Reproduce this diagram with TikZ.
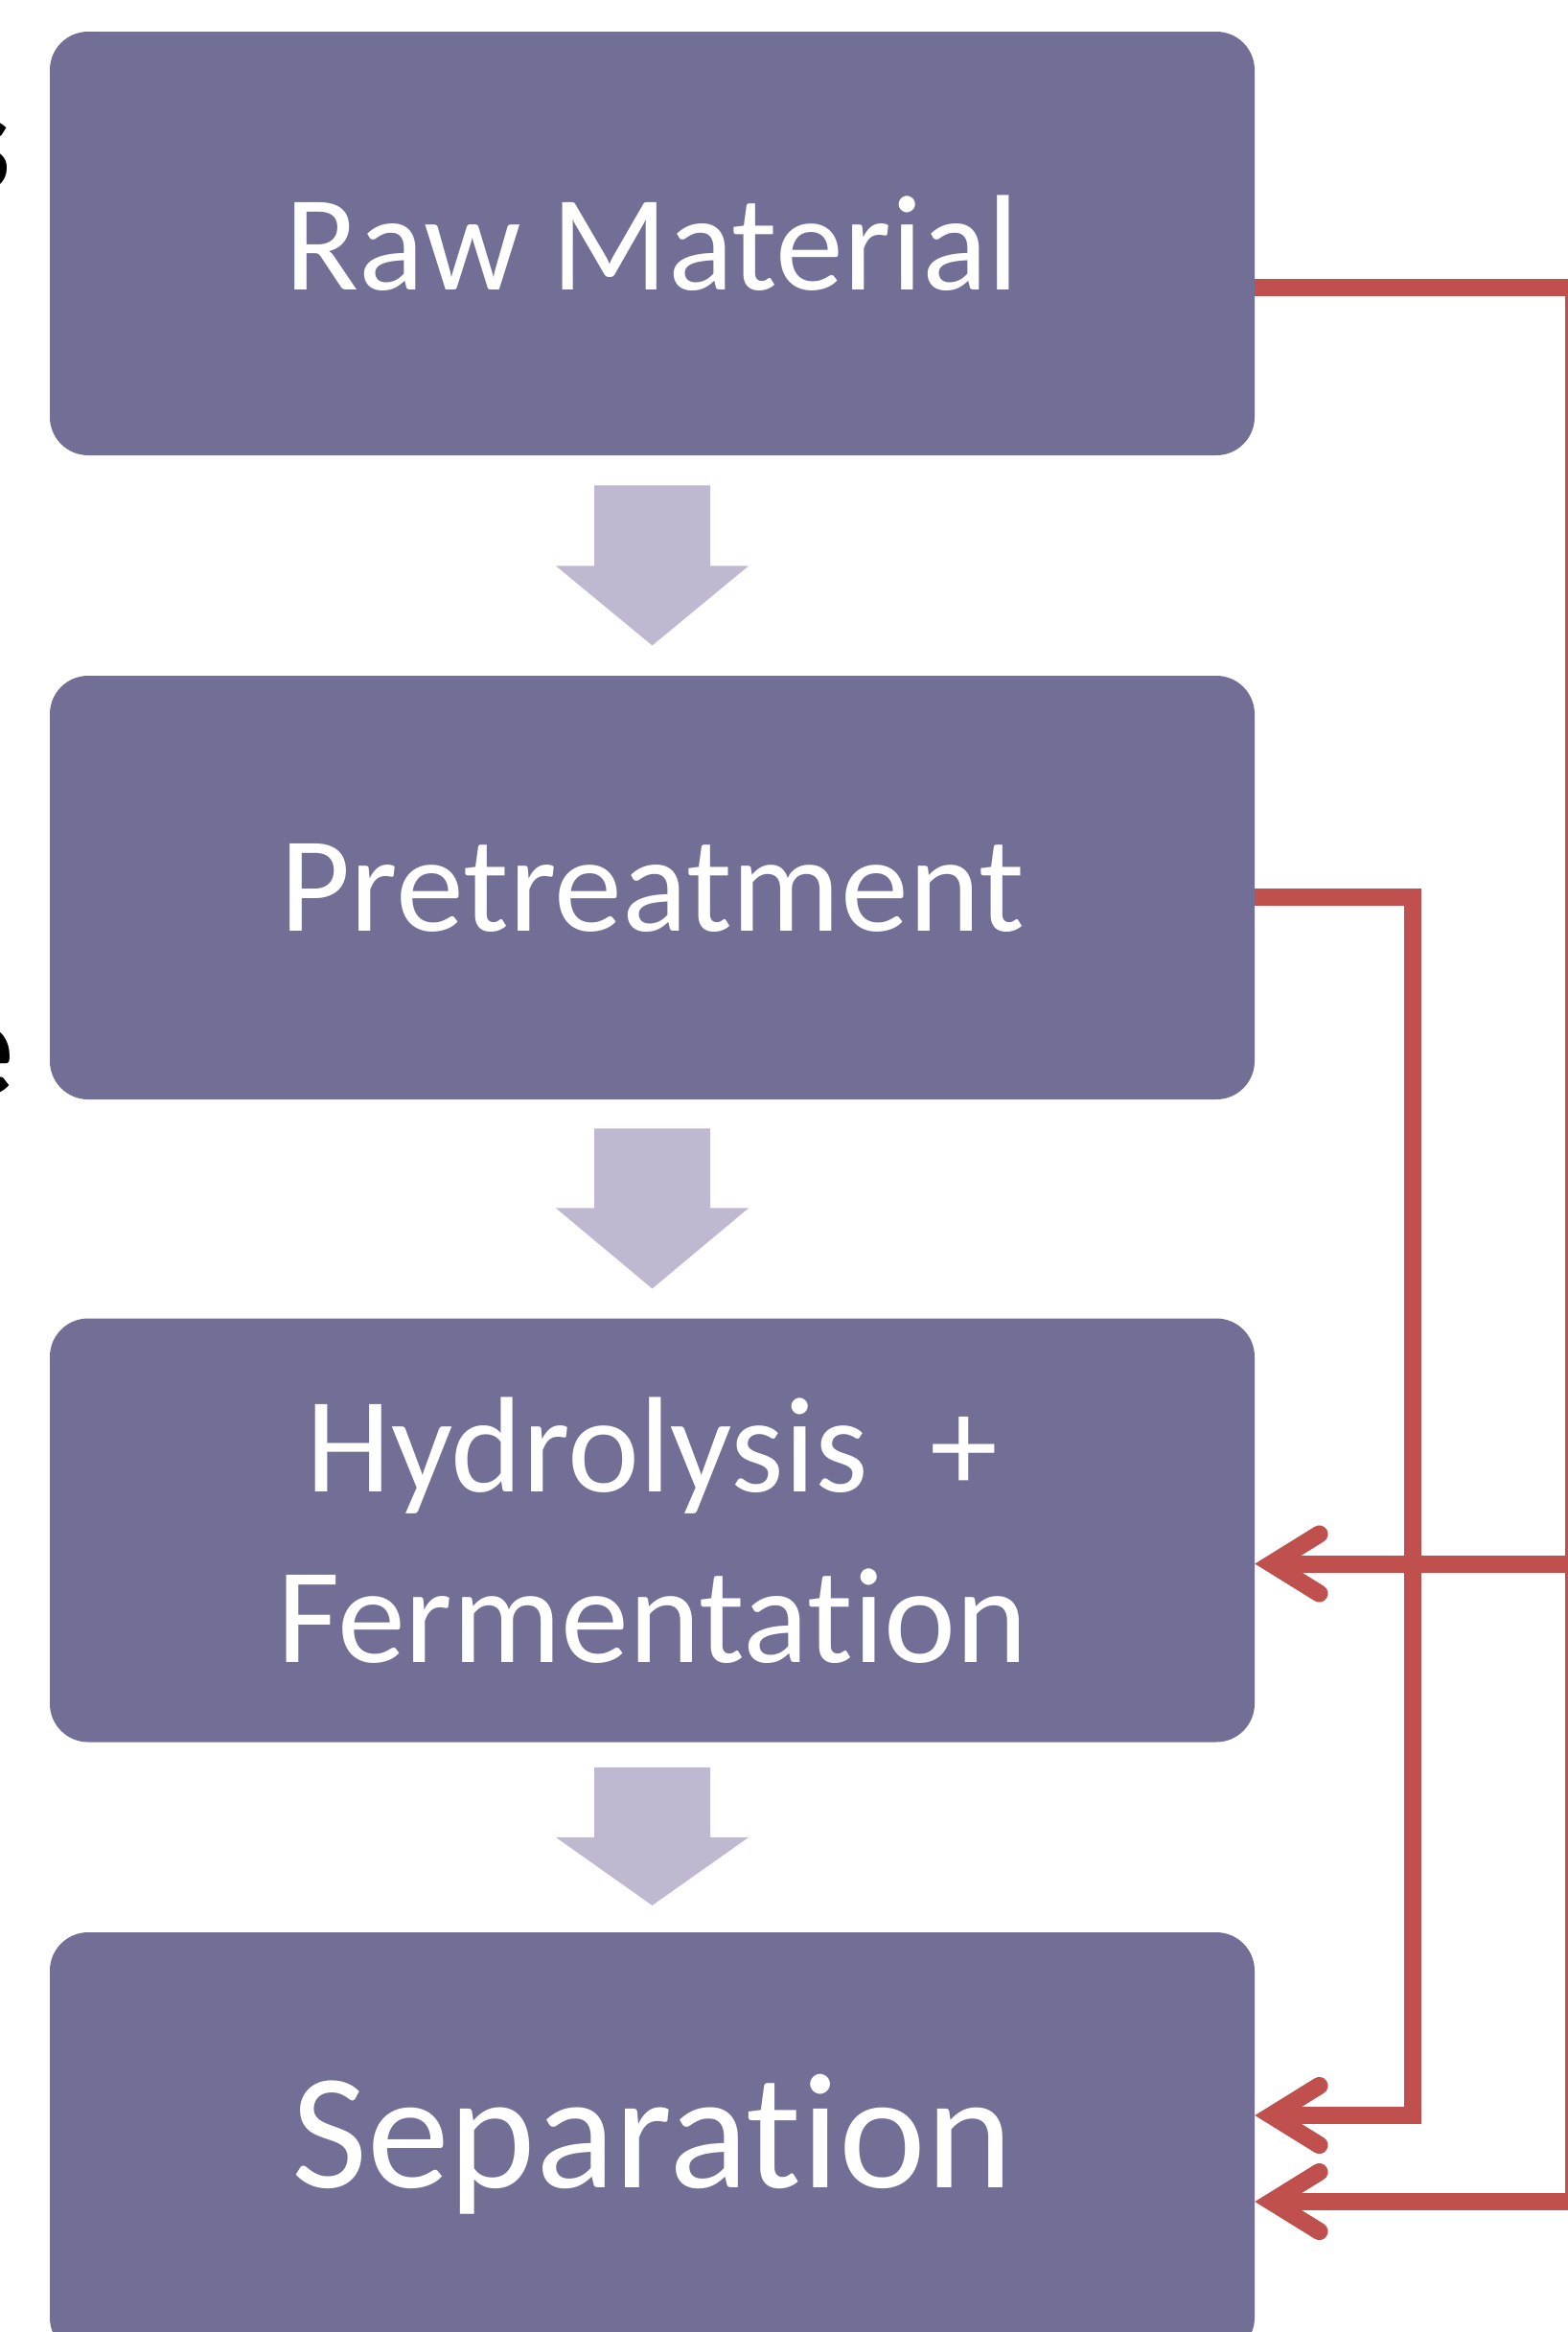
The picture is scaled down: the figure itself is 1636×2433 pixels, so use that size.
\documentclass[tikz,border=0pt]{standalone}
\usepackage{fontspec}
\setmainfont{Carlito}[Ligatures={NoCommon,NoContextual}]
\usetikzlibrary{arrows.meta,calc}

\definecolor{stagefill}{RGB}{113,111,149}
\definecolor{stagearrowfill}{RGB}{191,184,208}
\definecolor{recyclered}{RGB}{192,80,77}

% block arrow between two stages: top point, shaft length, head length
\newcommand{\stagearrow}[3]{%
  \fill[stagearrowfill] ($(#1)+(-60.5,0)$) -- ++(0,#2) -- ++(-40,0) -- ++(100.5,#3)
    -- ++(100.5,-#3) -- ++(-40,0) -- ++(0,-#2) -- cycle;}

\begin{document}
\begin{tikzpicture}[x=0.5pt,y=-0.5pt,
    stage/.style={shape=rectangle,rounded corners=20pt,fill=stagefill,text=white,
      minimum width=628.5pt,minimum height=221pt,inner sep=0pt,align=center,
      font=\fontsize{71}{89}\selectfont},
    cutword/.style={anchor=base east,inner sep=0pt,font=\bfseries\fontsize{75}{90}\selectfont},
    recycle/.style={draw=recyclered,line width=9pt,line join=miter,
      -{Straight Barb[length=25pt,width=31pt,line cap=round,line join=miter]}},
    recycleshadow/.style={recycle,draw=black!25}]
  \useasboundingbox (0,0) rectangle (1636,2433);

  \node[stage] (raw) at (680.5,254){Raw Material};
  \node[stage] (pre) at (680.5,926){Pretreatment};
  \node[stage] (hyd) at (680.5,1596.5){Hydrolysis \ +\\Fermentation};
  \node[stage,font=\fontsize{86}{100}\selectfont] (sep) at (680.5,2237){Separation};

  % words cut off at the left edge
  \node[cutword] (lefts) at (12,198){s};
  \node[cutword] (lefte) at (15,1143){e};

  \coordinate (a1) at ($(raw.south)+(0,31)$);
  \coordinate (a2) at ($(pre.south)+(0,30)$);
  \coordinate (a3) at ($(hyd.south)+(0,26)$);
  \stagearrow{a1}{84}{83}
  \stagearrow{a2}{83}{84}
  \stagearrow{a3}{73}{71}

  \coordinate (rawout) at ($(raw.east)+(0,46)$);
  \coordinate (hydin) at ($(hyd.east)+(0,35)$);
  \coordinate (preout) at ($(pre.east)+(0,10)$);
  \coordinate (sepin1) at ($(sep.east)+(0,-30)$);
  \coordinate (sepin2) at ($(sep.east)+(0,60)$);
  \coordinate (rim) at ($(rawout)+(333,0)$);
  \coordinate (prerim) at ($(preout)+(165,0)$);

  % soft shadows under the red lines
  \begin{scope}[shift={(2,5)}]
    \draw[recycleshadow] (rawout) -- (rim) |- (sepin2);
    \draw[recycleshadow] (preout) -- (prerim) |- (sepin1);
    \draw[recycleshadow] (rim |- hydin) -- (hydin);
  \end{scope}

  \draw[recycle] (rawout) -- (rim) |- (sepin2);
  \draw[recycle] (preout) -- (prerim) |- (sepin1);
  \draw[recycle] (rim |- hydin) -- (hydin);
\end{tikzpicture}
\end{document}
